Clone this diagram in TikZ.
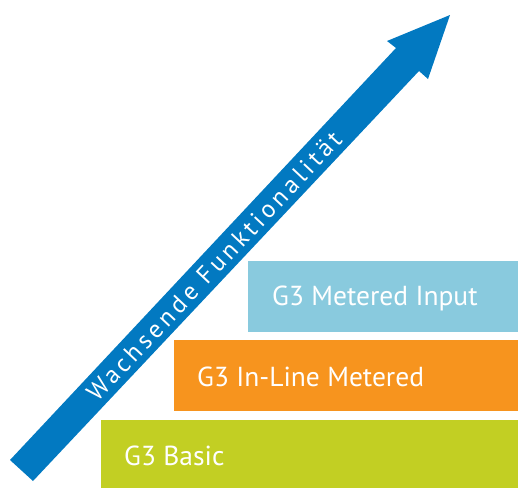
\documentclass[tikz,border=0pt]{standalone}
\usepackage{fontspec}
\setmainfont{PT Sans}
\definecolor{arrowblue}{HTML}{0279C1}
\definecolor{lightblue}{HTML}{89CADE}
\definecolor{orangebar}{HTML}{F7941E}
\definecolor{greenbar}{HTML}{C2CF23}
\begin{document}
\begin{tikzpicture}[x=1pt,y=-1pt,
  bartext/.style={text=white,anchor=base west,inner sep=0pt,font=\fontsize{27.5}{32}\selectfont}]
\useasboundingbox (0,0) rectangle (518,488);
% arrow
\fill[arrowblue] (10,460) -- (396,48) -- (387,41) -- (450,15) -- (428,79) -- (419,71) -- (33,481) -- cycle;
\node[text=white,rotate=46.8,inner sep=0pt,font=\fontsize{25}{30}\selectfont\addfontfeature{LetterSpace=15}] (lbl) at (214,266) {Wachsende Funktionalität};
% bars
\fill[lightblue] (248,261) rectangle (518,332);
\fill[orangebar] (174,340) rectangle (518,411);
\fill[greenbar] (101,420) rectangle (518,488);
\node[bartext] (t1) at (272,305) {G3 Metered Input};
\node[bartext] (t2) at (197,386) {G3 In-Line Metered};
\node[bartext] (t3) at (124,465) {G3 Basic};
\end{tikzpicture}
\end{document}
